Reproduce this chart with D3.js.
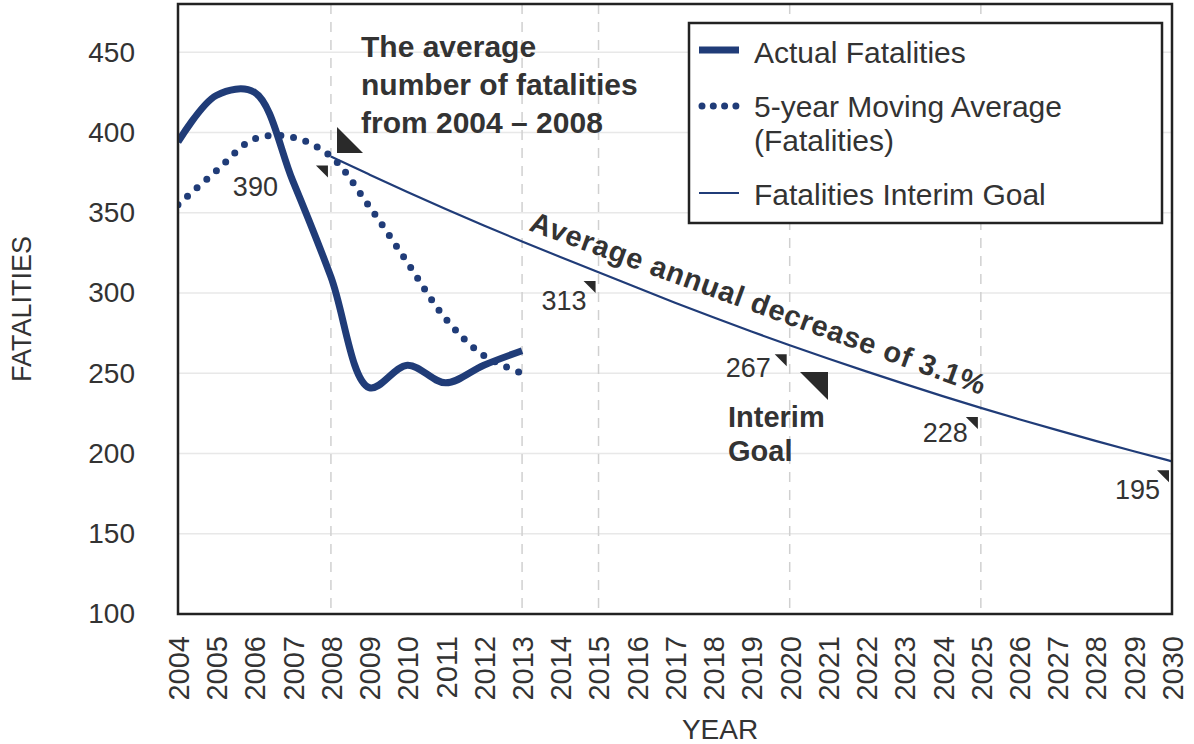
<!DOCTYPE html>
<html><head><meta charset="utf-8">
<script src="https://cdn.jsdelivr.net/npm/d3@7"></script>
<style>
html,body{margin:0;padding:0;background:#fff}
svg{display:block;font-family:"Liberation Sans",Arial,Helvetica,sans-serif}
</style>
</head><body>
<svg id="chart" width="1194" height="744"></svg>
<script>
// ---- data ----
const actualYears = [2004,2005,2006,2007,2008,2009,2010,2011,2012,2013];
const actualValues = [394,423,425,370,310,241,255,244,255,264];
const movingAvgValues = [355,376,396,397,385,354,319,284,261,250];
const goalYears = [2008,2009,2010,2011,2012,2013,2014,2015,2016,2017,2018,2019,2020,2021,2022,2023,2024,2025,2026,2027,2028,2029,2030];
const goalValues = [385,373.8,362.9,352.3,342.0,332.0,322.4,313.0,303.3,293.9,284.8,275.9,267.4,259.1,251.1,243.3,235.7,228.4,221.3,214.5,207.8,201.4,195.1];
const goalLabelYears = [2008,2015,2020,2025,2030];
const goalLabelTexts = ["390","313","267","228","195"];
const yTickValues = [100,150,200,250,300,350,400,450];
const xTickValues = [2004,2005,2006,2007,2008,2009,2010,2011,2012,2013,2014,2015,2016,2017,2018,2019,2020,2021,2022,2023,2024,2025,2026,2027,2028,2029,2030];
const dashedYears = [2008,2013,2015,2020,2025];
const legendLabels = [["Actual Fatalities"],["5-year Moving Average","(Fatalities)"],["Fatalities Interim Goal"]];

// ---- layout ----
const L = 178, R = 1172, T = 4, B = 614;
const navy = "#203c78", ink = "#333";
const svg = d3.select("#chart");
const x = d3.scaleLinear().domain([2004,2030]).range([L,R]);
const y = d3.scaleLinear().domain([100,480]).range([B,T]);

svg.append("defs").append("clipPath").attr("id","plot")
  .append("rect").attr("x",L).attr("y",T).attr("width",R-L).attr("height",B-T);

// horizontal grid
svg.append("g").selectAll("line").data(yTickValues.filter(d=>d>100)).join("line")
  .attr("x1",L).attr("x2",R).attr("y1",d=>y(d)).attr("y2",d=>y(d))
  .attr("stroke","#e8e8e8").attr("stroke-width",1.5);
// vertical dashed grid
svg.append("g").selectAll("line").data(dashedYears).join("line")
  .attr("x1",d=>x(d)).attr("x2",d=>x(d)).attr("y1",T).attr("y2",B)
  .attr("stroke","#d0d0d0").attr("stroke-width",1.5).attr("stroke-dasharray","10 8");

// y axis
const yAxis = svg.append("g").attr("transform",`translate(${L},0)`)
  .call(d3.axisLeft(y).tickValues(yTickValues).tickSize(0).tickPadding(43));
yAxis.select(".domain").remove();
yAxis.selectAll("text").attr("font-size",28).attr("fill",ink)
  .attr("font-family",'"Liberation Sans",Arial,sans-serif');

// x axis
const xAxis = svg.append("g").attr("transform",`translate(0,${B})`)
  .call(d3.axisBottom(x).tickValues(xTickValues).tickFormat(d3.format("d")).tickSize(0));
xAxis.select(".domain").remove();
xAxis.selectAll("text").attr("font-size",29).attr("fill",ink)
  .attr("font-family",'"Liberation Sans",Arial,sans-serif')
  .attr("transform","rotate(-90)").attr("text-anchor","end")
  .attr("x",-22).attr("y",0).attr("dy","0.36em");

// axis titles
svg.append("text").attr("transform","translate(31,309) rotate(-90)")
  .attr("text-anchor","middle").attr("font-size",27).attr("fill",ink).text("FATALITIES");
svg.append("text").attr("x",720).attr("y",739).attr("text-anchor","middle")
  .attr("font-size",28).attr("fill",ink).text("YEAR");

// lines
const plot = svg.append("g").attr("clip-path","url(#plot)");
const lineFn = d3.line().x(d=>x(d[0])).y(d=>y(d[1])).curve(d3.curveCatmullRom.alpha(0.5));
plot.append("path").datum(goalYears.map((d,i)=>[d,goalValues[i]]))
  .attr("d", d3.line().x(d=>x(d[0])).y(d=>y(d[1])).curve(d3.curveBasis))
  .attr("fill","none").attr("stroke",navy).attr("stroke-width",2.2);
plot.append("path").datum(actualYears.map((d,i)=>[d,movingAvgValues[i]]))
  .attr("d",lineFn).attr("fill","none").attr("stroke",navy).attr("stroke-width",7)
  .attr("stroke-linecap","round").attr("stroke-dasharray","0 12.8");
plot.append("path").datum(actualYears.map((d,i)=>[d,actualValues[i]]))
  .attr("d",lineFn).attr("fill","none").attr("stroke",navy).attr("stroke-width",7)
  .attr("stroke-linejoin","round");

// frame
svg.append("rect").attr("x",L).attr("y",T).attr("width",R-L).attr("height",B-T)
  .attr("fill","none").attr("stroke","#222").attr("stroke-width",2.5);

// goal labels with small triangles
const goalAt = yr => goalValues[goalYears.indexOf(yr)];
const ann = svg.append("g");
goalLabelYears.forEach((yr,i)=>{
  const px = x(yr), py = y(goalAt(yr));
  ann.append("path").attr("d",`M${px-15},${py+9}L${px-3},${py+9}L${px-3},${py+21}Z`).attr("fill","#2a2a2a");
  let lx = px-12, ly = py+38;
  if (i===0){ lx = px-53; ly = py+39; }
  if (i===2){ lx = px-19; ly = py+32; }
  if (i===3){ lx = px-13; ly = py+34; }
  ann.append("text").attr("x",lx).attr("y",ly).attr("text-anchor","end")
    .attr("font-size",27).attr("fill",ink).text(goalLabelTexts[i]);
});

// big triangles
ann.append("path").attr("d","M337,127L337,153L363,153Z").attr("fill","#2a2a2a");
ann.append("path").attr("d","M800,372L828,372L828,400Z").attr("fill","#2a2a2a");

// title annotation
const t1 = ann.append("text").attr("font-size",30).attr("font-weight","bold").attr("fill",ink);
["The average","number of fatalities","from 2004 \u2013 2008"].forEach((s,i)=>{
  t1.append("tspan").attr("x",361).attr("y",57+i*38).text(s);
});
// Interim goal
const t2 = ann.append("text").attr("font-size",29).attr("font-weight","bold").attr("fill",ink);
["Interim","Goal"].forEach((s,i)=>{
  t2.append("tspan").attr("x",728).attr("y",427+i*34).text(s);
});
// rotated annotation
ann.append("text").attr("transform","translate(528,230) rotate(20)")
  .attr("font-size",29).attr("font-weight","bold").attr("fill",ink)
  .attr("letter-spacing",0.8).text("Average annual decrease of 3.1%");

// legend
const lg = svg.append("g");
lg.append("rect").attr("x",689).attr("y",23).attr("width",473).attr("height",200)
  .attr("fill","#fff").attr("stroke","#222").attr("stroke-width",2.5);
lg.append("line").attr("x1",699).attr("x2",739).attr("y1",50).attr("y2",50)
  .attr("stroke",navy).attr("stroke-width",7);
lg.append("line").attr("x1",702).attr("x2",736).attr("y1",106).attr("y2",106)
  .attr("stroke",navy).attr("stroke-width",7).attr("stroke-linecap","round").attr("stroke-dasharray","0 11.3");
lg.append("line").attr("x1",699).attr("x2",739).attr("y1",193).attr("y2",193)
  .attr("stroke",navy).attr("stroke-width",2.2);
const lgBase = [[63],[117,151],[205]];
legendLabels.forEach((lines,i)=>{
  lines.forEach((s,j)=>{
    lg.append("text").attr("x",754).attr("y",lgBase[i][j]).attr("font-size",30)
      .attr("fill",ink).text(s);
  });
});
</script>
</body></html>
